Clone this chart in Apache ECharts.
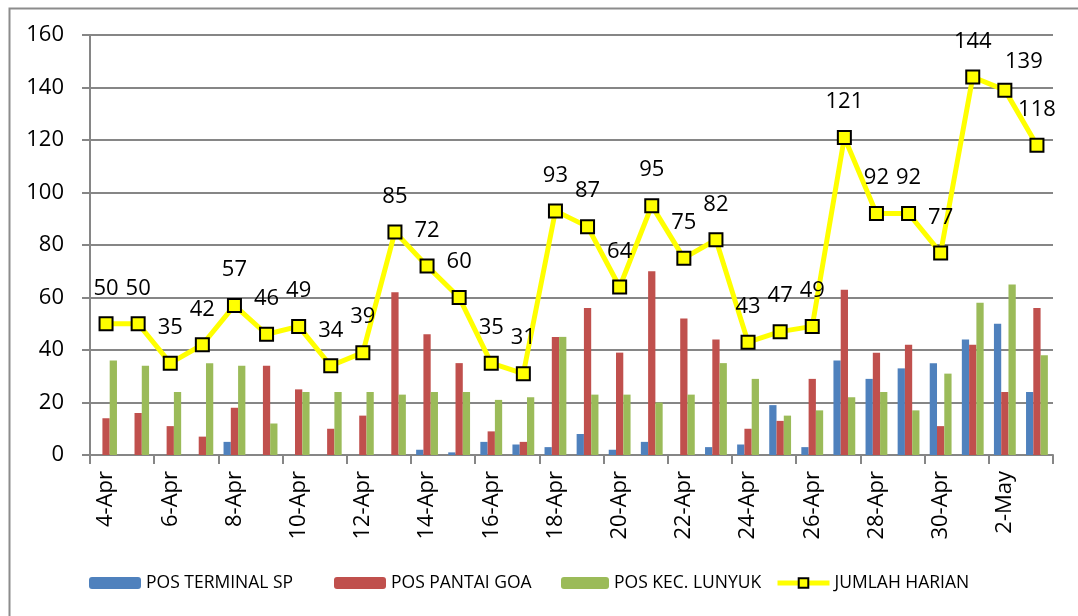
<!DOCTYPE html>
<html>
<head>
<meta charset="utf-8">
<script src="https://cdn.jsdelivr.net/npm/echarts@6/dist/echarts.min.js"></script>
<style>
html,body{margin:0;padding:0;background:#fff;}
#chart{width:1078px;height:616px;}
</style>
</head>
<body>
<div id="chart"></div>
<script>
const categories = ['4-Apr','5-Apr','6-Apr','7-Apr','8-Apr','9-Apr','10-Apr','11-Apr','12-Apr','13-Apr','14-Apr','15-Apr','16-Apr','17-Apr','18-Apr','19-Apr','20-Apr','21-Apr','22-Apr','23-Apr','24-Apr','25-Apr','26-Apr','27-Apr','28-Apr','29-Apr','30-Apr','1-May','2-May','3-May'];
const posTerminalSP = [0,0,0,0,5,0,0,0,0,0,2,1,5,4,3,8,2,5,0,3,4,19,3,36,29,33,35,44,50,24];
const posPantaiGoa = [14,16,11,7,18,34,25,10,15,62,46,35,9,5,45,56,39,70,52,44,10,13,29,63,39,42,11,42,24,56];
const posKecLunyuk = [36,34,24,35,34,12,24,24,24,23,24,24,21,22,45,23,23,20,23,35,29,15,17,22,24,17,31,58,65,38];
const jumlahHarian = [50,50,35,42,57,46,49,34,39,85,72,60,35,31,93,87,64,95,75,82,43,47,49,121,92,92,77,144,139,118];
const seriesNames = ['POS TERMINAL SP','POS PANTAI GOA','POS KEC. LUNYUK','JUMLAH HARIAN'];

const FONT = 'Open Sans';
const legendLefts = [89, 334, 561, 775];
const legendWidths = [52, 52, 48, 52];
// the label of 2-May sits to the right of its point in the original
const lineData = jumlahHarian.map((v, i) => categories[i] === '2-May' ? {value: v, label: {offset: [19, 7]}} : v);

const chart = echarts.init(document.getElementById('chart'), null, {renderer:'canvas'});
chart.setOption({
  backgroundColor:'#fff',
  animation:false,
  textStyle:{fontFamily:FONT},
  graphic:[{
    type:'rect', left:7, top:6, z:-1,
    shape:{width:1100, height:640},
    style:{fill:'none', stroke:'#8c8c8c', lineWidth:2}
  }],
  grid:{left:90, right:25, top:35, bottom:161, containLabel:false},
  legend: seriesNames.map((n, i) => ({
    left: legendLefts[i], top: 574, padding: 0,
    itemWidth: legendWidths[i], itemHeight: 12,
    textStyle:{fontFamily:FONT, fontSize:17.5, color:'#000'},
    lineStyle: i === 3 ? {width:5, color:'#FFFF00'} : undefined,
    data:[n]
  })),
  xAxis:{
    type:'category', data:categories, boundaryGap:true,
    axisLine:{lineStyle:{color:'#868686', width:2}},
    axisTick:{show:true, interval:1, length:9, lineStyle:{color:'#868686', width:2}},
    axisLabel:{interval:1, rotate:90, margin:16, fontFamily:FONT, fontSize:22, color:'#000'}
  },
  yAxis:{
    type:'value', min:0, max:160, interval:20,
    axisLine:{show:true, lineStyle:{color:'#868686', width:2}},
    axisTick:{show:true, length:8, lineStyle:{color:'#868686', width:2}},
    splitLine:{lineStyle:{color:'#868686', width:2}},
    axisLabel:{margin:26, fontFamily:FONT, fontSize:22, color:'#000'}
  },
  series:[
    {name:seriesNames[0], type:'bar', data:posTerminalSP, barGap:'0%', barCategoryGap:'32%', itemStyle:{color:'#4F81BD'}},
    {name:seriesNames[1], type:'bar', data:posPantaiGoa, barGap:'0%', barCategoryGap:'32%', itemStyle:{color:'#C0504D'}},
    {name:seriesNames[2], type:'bar', data:posKecLunyuk, barGap:'0%', barCategoryGap:'32%', itemStyle:{color:'#9BBB59'}},
    {name:seriesNames[3], type:'line', data:lineData, z:5,
     symbol:'rect', symbolSize:13,
     lineStyle:{color:'#FFFF00', width:5},
     itemStyle:{color:'#FFFF00', borderColor:'#000', borderWidth:2},
     label:{show:true, position:'top', distance:17, fontFamily:FONT, fontSize:22, color:'#000'}
    }
  ]
});
</script>
</body>
</html>
